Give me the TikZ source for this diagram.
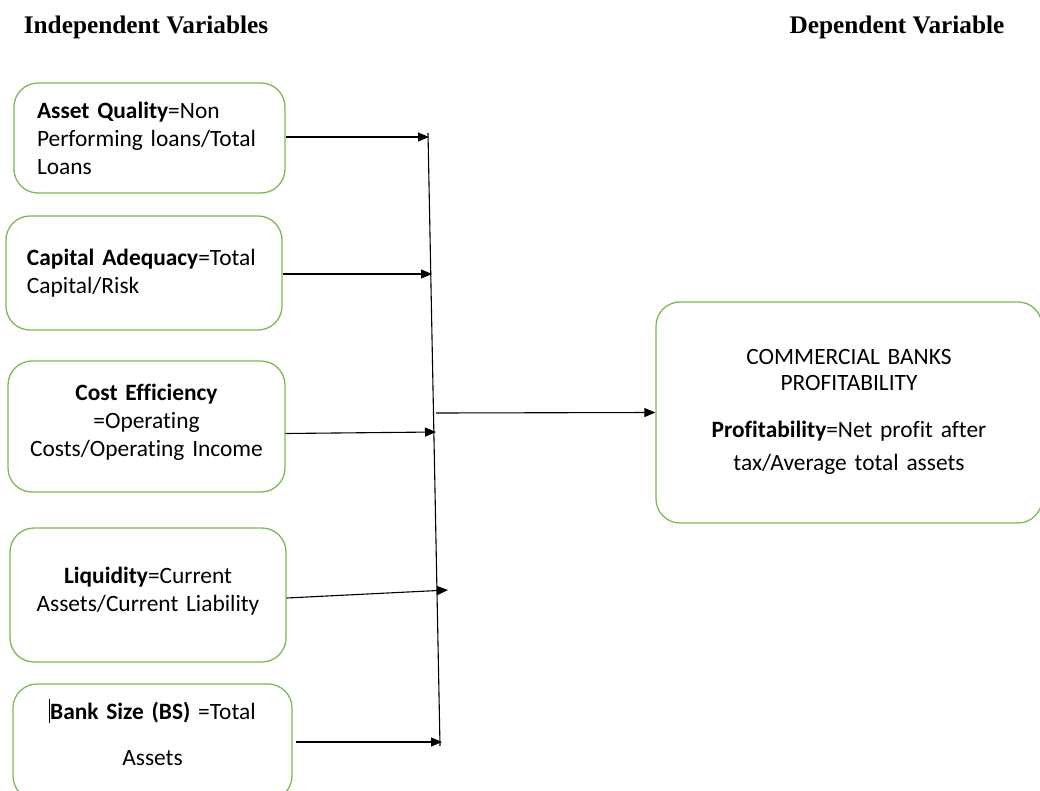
\documentclass[tikz,border=0pt]{standalone}
\usepackage{fontspec}
\setmainfont{Carlito}[WordSpace=0.65,Ligatures=NoCommon]
\newfontfamily\headfont{Liberation Serif}
\usetikzlibrary{arrows.meta}
\definecolor{boxgreen}{RGB}{125,185,85}

\begin{document}
\begin{tikzpicture}[x=1pt,y=-1pt,
    varbox/.style={draw=boxgreen, line width=1.3pt, rounded corners=24pt,
        inner ysep=0pt, font=\fontsize{23.4}{28}\selectfont},
    feed/.style={-{Triangle[length=11pt,width=9pt]}, line width=1.1pt},
    heading/.style={font=\headfont\bfseries\fontsize{25.3}{28}\selectfont}]
    \useasboundingbox (0,0) rectangle (1040,791);

    % Headings
    \node[heading] (indep) at (146,27) {Independent Variables};
    \node[heading] (dep) at (897,27) {Dependent Variable};

    % Independent variable boxes
    \node[varbox, text width=225pt, inner xsep=23pt, minimum height=110pt, align=left]
        (aq) at (149.5,138) {\textbf{Asset Quality}=Non\\Performing loans/Total\\Loans};
    \node[varbox, text width=234pt, inner xsep=21pt, minimum height=114pt, align=left]
        (ca) at (144,273) {\textbf{Capital Adequacy}=Total\\Capital/Risk};
    \node[varbox, text width=237pt, inner xsep=20pt, minimum height=131pt, align=center]
        (ce) at (146.5,426.5) {\textbf{Cost Efficiency}\\=Operating\\Costs/Operating Income\\[-16pt]\mbox{}};
    \node[varbox, text width=236pt, inner xsep=20pt, minimum height=134pt, align=center]
        (lq) at (148,595) {\textbf{Liquidity}=Current\\Assets/Current Liability\\[-16pt]\mbox{}};
    \node[varbox, text width=239pt, inner xsep=20pt, minimum height=116pt, align=center]
        (bs) at (152.5,742) {\rule[-4pt]{0.8pt}{24pt}\textbf{Bank Size (BS)} =Total\\[18pt]Assets\\[-8pt]\mbox{}};

    % Dependent variable box
    \node[varbox, text width=346pt, inner xsep=20pt, minimum height=221pt, align=center]
        (cbp) at (849,412.5) {COMMERCIAL BANKS\\[-2pt]PROFITABILITY\\[19pt]
        \textbf{Profitability}=Net profit after\\[5pt]tax/Average total assets\\[-22pt]\mbox{}};

    % Collecting line
    \coordinate (bustop) at (428,133);
    \coordinate (busbot) at (440,746);
    \coordinate (t1) at (429,137);
    \coordinate (t2) at (432,274);
    \coordinate (t3) at (436,432);
    \coordinate (t4) at (448,590);
    \coordinate (t5) at (442,742);
    \coordinate (out) at (436,413);
    \draw[line width=1.1pt] (bustop) -- (busbot);

    % Draw directed edges
    \draw[feed] ([yshift=1pt]aq.east) -- (t1);
    \draw[feed] ([yshift=-1pt]ca.east) -- (t2);
    \draw[feed] ([yshift=-7pt]ce.east) -- (t3);
    \draw[feed] ([yshift=-3pt]lq.east) -- (t4);
    \draw[feed] ([xshift=3pt]bs.east) -- (t5);
    \draw[feed] (out) -- (cbp.west);

\end{tikzpicture}
\end{document}
